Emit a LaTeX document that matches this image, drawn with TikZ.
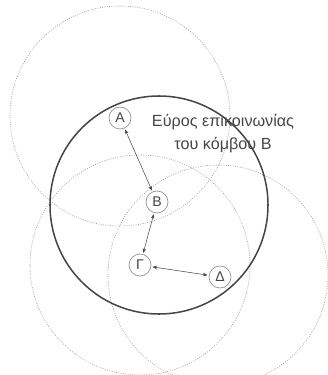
\documentclass[tikz,border=0pt]{standalone}
\usepackage{fontspec}
\setmainfont{Liberation Sans}
\usepackage{tikz}
\usetikzlibrary{arrows.meta,positioning}
\definecolor{rangegray}{RGB}{150,150,150}
\definecolor{inkgray}{RGB}{70,70,70}

\begin{document}
\begin{tikzpicture}[
    x=0.03cm, y=-0.03cm,
    every node/.style={font=\fontsize{12}{14}\selectfont, text=inkgray},
    station/.style={draw=rangegray, line width=0.6pt, circle,
                inner sep=0pt, minimum size=0.66cm},
    reach/.style={draw=rangegray, line width=0.5pt,
                dash pattern=on 0.8pt off 1.2pt},
    mainreach/.style={draw=inkgray, line width=1.3pt},
    link/.style={{Stealth[length=4pt,width=3pt]}-{Stealth[length=4pt,width=3pt]},
                line width=0.45pt, draw=inkgray, shorten <=1pt, shorten >=1pt},
    note/.style={font=\fontsize{13.8}{19.5}\selectfont, align=center}
  ]
    \useasboundingbox (0,0) rectangle (327,375);

    % Ranges of the other nodes
    \draw[reach] (120,116) circle (3.3cm);
    \draw[reach] (140,265) circle (3.3cm);
    \draw[reach] (218,275) circle (3.3cm);

    % Range of node B
    \draw[mainreach] (159,205) circle (3.27cm);

    % Nodes
    \node[station, fill=white] (A) at (120,118) {Α};
    \node[station, fill=white] (B) at (157,202) {Β};
    \node[station, fill=white] (G) at (140,265) {Γ};
    \node[station, fill=white] (D) at (220,277) {Δ};

    % Label
    \node[note] (lbl) at (223,134) {Εύρος επικοινωνίας\\του κόμβου Β};

    % Links
    \draw[link] (A) -- (B);
    \draw[link] (B) -- (G);
    \draw[link] (G) -- (D);
  \end{tikzpicture}
\end{document}
